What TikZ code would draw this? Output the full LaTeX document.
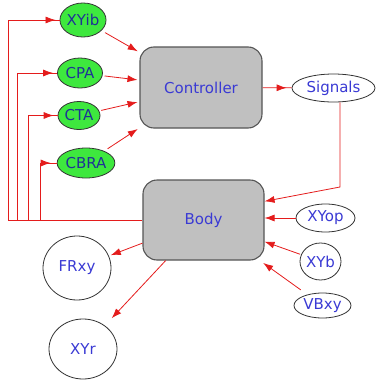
\documentclass[tikz,border=0pt]{standalone}
\usepackage{fontspec}
\setmainfont{DejaVu Sans}
\usetikzlibrary{shapes.geometric,arrows.meta,decorations.markings,calc}
\definecolor{flowred}{RGB}{228,28,28}
\definecolor{boxgray}{RGB}{192,192,192}
\definecolor{boxedge}{RGB}{85,85,85}
\definecolor{leafgreen}{RGB}{62,232,62}
\definecolor{txtblue}{RGB}{58,58,212}
\definecolor{txtdark}{RGB}{30,50,150}
\begin{document}
\begin{tikzpicture}[x=1pt,y=-1pt,
  every node/.style={font=\fontsize{15}{18}\selectfont, inner sep=0pt, text=txtblue},
  block/.style={draw=boxedge, line width=1.1pt, fill=boxgray, rounded corners=14pt, minimum width=#1},
  gnode/.style={ellipse, draw=black!80, line width=0.8pt, fill=leafgreen, text=txtdark},
  wnode/.style={ellipse, draw=black!80, line width=0.8pt, fill=white},
  flow/.style={draw=flowred, line width=0.8pt, -{Latex[length=10pt,width=7pt]}},
  fb/.style={draw=flowred, line width=0.8pt},
  tipnear/.style={postaction={decorate}, decoration={markings, mark=at position #1 with {\arrow{Latex[length=10pt,width=7pt]}}}}
]
\useasboundingbox (0,0) rectangle (380,383);

\node[block=122pt, minimum height=81pt] (Controller) at (201,87.5) {Controller};
\node[block=121pt, minimum height=80pt] (Body) at (203.5,220) {Body};

\node[gnode, minimum width=40pt, minimum height=34pt] (XYib) at (83,20) {XYib};
\node[gnode, minimum width=45pt, minimum height=30pt] (CPA) at (80,73) {CPA};
\node[gnode, minimum width=42pt, minimum height=28pt] (CTA) at (79,115.5) {CTA};
\node[gnode, minimum width=54pt, minimum height=30pt] (CBRA) at (86,163) {CBRA};

\node[wnode, minimum width=83pt, minimum height=28pt] (Signals) at (333.5,88) {Signals};
\node[wnode, minimum width=59pt, minimum height=28pt] (XYop) at (325.5,218) {XYop};
\node[wnode, minimum width=41pt, minimum height=37pt] (XYb) at (320.5,261.5) {XYb};
\node[wnode, minimum width=57pt, minimum height=25pt] (VBxy) at (322.5,305.5) {VBxy};
\node[wnode, minimum width=68pt, minimum height=64pt] (FRxy) at (77,268) {FRxy};
\node[wnode, minimum width=68pt, minimum height=60pt] (XYr) at (83,349) {XYr};

\coordinate (c1) at (8,220);
\coordinate (c2) at (17,220);
\coordinate (c3) at (28,220);
\coordinate (c4) at (40,220);
\coordinate (c5) at (340,187);

% feedback lines
\draw[fb] (Body.west) -- (c1);
\draw[fb, tipnear=-4pt] (c1) |- (XYib);
\draw[fb, tipnear=-4pt] (c2) |- (CPA);
\draw[fb, tipnear=-4pt] (c3) |- (CTA);
\draw[fb, tipnear=-6pt] (c4) |- (CBRA);

% inputs to controller
\draw[flow, shorten <=4pt, shorten >=2pt] (XYib) -- (Controller);
\draw[flow, shorten <=2pt, shorten >=2pt] (CPA) -- (Controller);
\draw[flow, shorten <=2pt, shorten >=2pt] (CTA) -- (Controller);
\draw[flow, shorten <=4pt, shorten >=2pt] (CBRA) -- (Controller);

% controller to signals to body
\draw[fb, tipnear=-5pt] (Controller) -- (Signals);
\draw[flow] (c5 |- Signals.south) -- (c5) -- (Body.17);

% inputs to body
\draw[flow] (XYop) -- (XYop -| Body.east);
\draw[flow, shorten <=1pt] (XYb) -- (Body);
\draw[flow, shorten <=8pt, shorten >=4pt] (VBxy) -- (Body);

% outputs of body
\draw[flow, shorten >=2pt] (Body) -- (FRxy);
\draw[flow, shorten >=10pt] (Body) -- (XYr);
\end{tikzpicture}
\end{document}
